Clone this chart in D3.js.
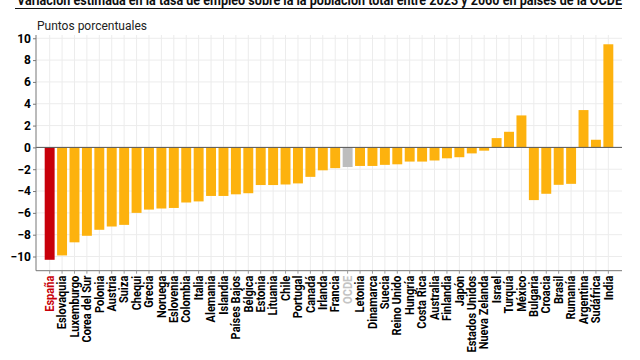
<!DOCTYPE html>
<html><head><meta charset="utf-8">
<script src="https://cdn.jsdelivr.net/npm/d3@7"></script>
<style>
body{margin:0;background:#fff;}
svg{display:block;font-family:Roboto, "Noto Sans", sans-serif;}
</style></head>
<body>
<svg id="chart" width="640" height="360"></svg>
<script>
const title = "Variación estimada en la tasa de empleo sobre la la población total entre 2023 y 2060 en países de la OCDE";
const yLabel = "Puntos porcentuales";
const countries = ["España","Eslovaquia","Luxemburgo","Corea del Sur","Polonia","Austria","Suiza","Chequi","Grecia","Noruega","Eslovenia","Colombia","Italia","Alemania","Islandia","Países Bajos","Bélgica","Estonia","Lituania","Chile","Portugal","Canadá","Irlanda","Francia","OCDE","Letonia","Dinamarca","Suecia","Reino Unido","Hungría","Costa Rica","Australia","Finlandia","Japón","Estados Unidos","Nueva Zelanda","Israel","Turquía","México","Bulgaria","Croacia","Brasil","Rumanía","Argentina","Sudáfrica","India"];
const values = [-10.3,-9.9,-8.7,-8.1,-7.55,-7.25,-7.1,-6.0,-5.7,-5.6,-5.55,-5.05,-4.95,-4.45,-4.45,-4.3,-4.2,-3.45,-3.45,-3.4,-3.3,-2.7,-2.1,-1.9,-1.8,-1.7,-1.7,-1.6,-1.55,-1.3,-1.3,-1.2,-1.0,-0.9,-0.55,-0.3,0.85,1.43,2.93,-4.83,-4.25,-3.43,-3.34,3.42,0.7,9.45];
const yTicks = [-10,-8,-6,-4,-2,0,2,4,6,8,10];
const highlight = "España";
const aggregate = "OCDE";

const svg = d3.select("#chart");
const mLeft = 36, mRight = 622, mTop = 35, mBottom = 270.7;

const x = d3.scaleBand().domain(countries).range([mLeft, mRight]).paddingInner(0.2).paddingOuter(0.7);
const y = d3.scaleLinear().domain([-11.3, 10.3]).range([mBottom, mTop]);

// title
svg.append("text").attr("x", 17).attr("y", 4.5).attr("font-weight", "bold").attr("font-size", 15)
  .attr("textLength", 605).attr("lengthAdjust", "spacingAndGlyphs").attr("fill", "#111").text(title);
svg.append("line").attr("x1", 15).attr("x2", 622).attr("y1", 8.5).attr("y2", 8.5).attr("stroke", "#111").attr("stroke-width", 1.2);

svg.append("text").attr("x", 37).attr("y", 30).attr("font-size", 12).attr("fill", "#222").text(yLabel);

// grid
const g = svg.append("g");
g.selectAll("line.h").data(yTicks).join("line").attr("class", "h")
  .attr("x1", mLeft).attr("x2", mRight).attr("y1", d => y(d)).attr("y2", d => y(d))
  .attr("stroke", "#ececec").attr("stroke-width", 1);
g.selectAll("line.v").data(countries).join("line").attr("class", "v")
  .attr("x1", d => x(d) + x.bandwidth()/2).attr("x2", d => x(d) + x.bandwidth()/2)
  .attr("y1", mTop).attr("y2", mBottom).attr("stroke", "#ececec").attr("stroke-width", 1);

// bars
const data = countries.map((c, i) => ({c, v: values[i]}));
svg.append("g").selectAll("rect").data(data).join("rect")
  .attr("x", d => x(d.c)).attr("width", x.bandwidth())
  .attr("y", d => y(Math.max(0, d.v))).attr("height", d => Math.abs(y(d.v) - y(0)))
  .attr("fill", d => d.c === highlight ? "#c8000a" : d.c === aggregate ? "#bdbdbd" : "#fdb20e");

// zero line
svg.append("line").attr("x1", mLeft).attr("x2", mRight).attr("y1", y(0)).attr("y2", y(0)).attr("stroke", "#555").attr("stroke-width", 1);

// y axis
const yAxis = svg.append("g").attr("transform", `translate(${mLeft},0)`)
  .call(d3.axisLeft(y).tickValues(yTicks).tickSize(3).tickPadding(2).tickFormat(d3.format("d")));
yAxis.select(".domain").attr("stroke", "#777").attr("d", `M0,${mTop}V${mBottom}`);
yAxis.selectAll(".tick line").attr("stroke", "#777");
yAxis.selectAll("text").attr("font-family", "Roboto").attr("font-weight", "bold").attr("font-size", 12).attr("fill", "#000");

// x axis
const xAxis = svg.append("g").attr("transform", `translate(0,${mBottom})`)
  .call(d3.axisBottom(x).tickSize(3).tickPadding(3));
xAxis.select(".domain").attr("stroke", "#777").attr("d", `M${mLeft},0H${mRight}`);
xAxis.selectAll(".tick line").attr("stroke", "#999");
xAxis.selectAll("text")
  .attr("font-family", "Roboto").attr("font-weight", "bold").attr("font-size", 12)
  .attr("text-anchor", "end").attr("dy", "0.35em")
  .attr("transform", "translate(0,5) rotate(-90) scale(0.92,1)")
  .attr("x", 0).attr("y", 0)
  .attr("fill", d => d === highlight ? "#c8000a" : d === aggregate ? "#c4c4c4" : "#000");
</script>
</body></html>
